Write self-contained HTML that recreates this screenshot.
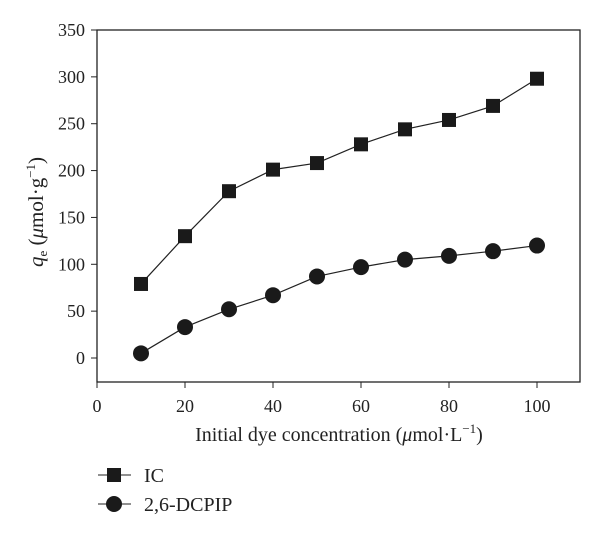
<!DOCTYPE html>
<html><head><meta charset="utf-8"><style>
body{margin:0;background:#fff}
svg text{font-family:"Liberation Serif",serif;fill:#222}
</style></head><body>
<svg id="c" width="600" height="533"></svg>
<script>
const xVals=[10,20,30,40,50,60,70,80,90,100];
const icVals=[79,130,178,201,208,228,244,254,269,298];
const dcpipVals=[5,33,52,67,87,97,105,109,114,120];
const xTicks=[0,20,40,60,80,100];
const yTicks=[0,50,100,150,200,250,300,350];
const L=97,R=580,T=30,B=382;
const X=v=>97+v*(537-97)/100;
const Y=v=>358-v*(358-30)/350;
const s=document.getElementById('c');const NS='http://www.w3.org/2000/svg';
function el(t,a,p){const e=document.createElementNS(NS,t);for(const k in a)e.setAttribute(k,a[k]);(p||s).appendChild(e);return e;}
const frame=el('rect',{x:L,y:T,width:R-L,height:B-T,fill:'none',stroke:'#222','stroke-width':1.3});


yTicks.forEach(v=>{const g=el('g',{});


el('line',{x1:L-6,x2:L,y1:Y(v),y2:Y(v),stroke:'#222'},g);
const t=el('text',{x:L-12,y:Y(v)+6,'text-anchor':'end','font-size':18},g);t.textContent=v;});
xTicks.forEach(v=>{const g=el('g',{});


el('line',{x1:X(v),x2:X(v),y1:B,y2:B+6,stroke:'#222'},g);
const t=el('text',{x:X(v),y:B+30,'text-anchor':'middle','font-size':18},g);t.textContent=v;});
function series(vals,name,shape){const g=el('g',{});


el('polyline',{points:xVals.map((x,i)=>X(x)+','+Y(vals[i])).join(' '),fill:'none',stroke:'#222','stroke-width':1.2},g);
xVals.forEach((x,i)=>{let m;
if(shape==='sq')m=el('rect',{x:X(x)-7,y:Y(vals[i])-7,width:14,height:14,fill:'#1a1a1a'},g);
else m=el('circle',{cx:X(x),cy:Y(vals[i]),r:8,fill:'#1a1a1a'},g);

});}
series(icVals,'ic','sq');series(dcpipVals,'dcpip','ci');
</script>
<svg width="600" height="533" style="position:absolute;left:0;top:0">
<text x="339" y="441" text-anchor="middle" font-size="20">Initial dye concentration (<tspan font-style="italic">μ</tspan>mol·L<tspan font-size="13" dy="-8">−1</tspan><tspan dy="8">)</tspan></text>
<text transform="translate(43,212) rotate(-90)" text-anchor="middle" font-size="21"><tspan font-style="italic">q</tspan><tspan font-size="13" dy="4">e</tspan><tspan dy="-4"> (</tspan><tspan font-style="italic">μ</tspan>mol·g<tspan font-size="13" dy="-8">−1</tspan><tspan dy="8">)</tspan></text>
<g><line x1="98" x2="131" y1="475" y2="475" stroke="#222"/><rect x="107" y="468" width="14" height="14" fill="#1a1a1a"/><text x="144" y="482" font-size="20">IC</text></g>
<g><line x1="98" x2="131" y1="504" y2="504" stroke="#222"/><circle cx="114" cy="504" r="8" fill="#1a1a1a"/><text x="144" y="511" font-size="20">2,6-DCPIP</text></g>
</svg>
</body></html>
